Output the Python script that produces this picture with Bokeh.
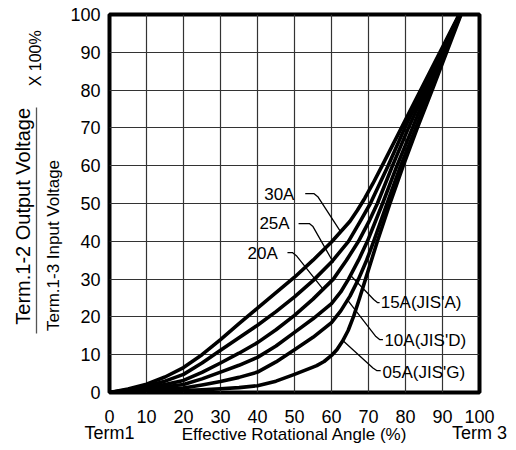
from bokeh.plotting import figure
from bokeh.models import Label, LinearAxis, Range1d, FixedTicker
from bokeh.embed import file_html
from bokeh.resources import INLINE

# ---- data ----
X_TICKS = [0, 10, 20, 30, 40, 50, 60, 70, 80, 90, 100]
Y_TICKS = [0, 10, 20, 30, 40, 50, 60, 70, 80, 90, 100]
X_END_NAMES = {0: "0\nTerm1", 100: "100\nTerm 3"}

A30_x = [0, 5, 10, 15, 20, 25, 30, 35, 40, 45, 50, 55, 60, 65, 67, 69, 71.2, 73.7, 78.9, 84.1, 89.3, 94.5]
A30_y = [0, 0.9, 2.2, 4.1, 6.6, 10.0, 14.0, 18.2, 22.3, 26.4, 30.5, 35.0, 39.8, 45.3, 48.2, 51.4, 55.3, 60, 70, 80, 90, 100]

A25_x = [0, 5, 10, 15, 20, 25, 30, 35, 40, 45, 50, 55, 60, 64.6, 67.6, 70.5, 75.3, 79.8, 84.7, 89.6, 94.6]
A25_y = [0, 0.7, 1.7, 3.0, 4.8, 7.8, 11.2, 14.5, 17.8, 21.4, 25.3, 29.6, 34.5, 40, 45, 50, 60, 70, 80, 90, 100]

A20_x = [0, 5, 10, 15, 20, 25, 30, 35, 40, 45, 50, 55, 60.5, 64, 67.3, 70, 72.4, 76.5, 80.8, 85.4, 90.0, 94.7]
A20_y = [0, 0.5, 1.3, 2.1, 3.2, 5.3, 7.8, 10.4, 13.2, 16.6, 20.4, 24.7, 30, 34.9, 40, 45, 50, 60, 70, 80, 90, 100]

A15_x = [0, 5, 10, 15, 20, 25, 30, 35, 40, 45, 50, 55, 60, 62.5, 64.6, 67.3, 69.7, 73.8, 77.7, 81.9, 86.0, 90.3, 94.8]
A15_y = [0, 0.4, 1.0, 1.5, 2.1, 3.6, 5.4, 7.2, 9.3, 12.3, 15.9, 19.5, 23.5, 26.6, 30, 35, 40, 50, 60, 70, 80, 90, 100]

A10_x = [0, 5, 10, 15, 20, 25, 30, 35, 40, 45, 50, 55, 60, 62.5, 65, 67.3, 69.5, 71.4, 75.0, 78.7, 82.8, 86.7, 90.7, 94.9]
A10_y = [0, 0.3, 0.6, 0.9, 1.2, 2.0, 2.9, 4.0, 5.4, 8.1, 11.3, 14.6, 18.5, 21.6, 25.5, 30, 35, 40, 50, 60, 70, 80, 90, 100]

A05_x = [0, 5, 10, 15, 20, 25, 30, 35, 40, 45, 50, 55, 56, 58, 60, 61.5, 63, 64.5, 66, 67.6, 69.2, 72.4, 75.8, 79.4, 83.2, 87.2, 91.1, 95.0]
A05_y = [0, 0.15, 0.3, 0.4, 0.5, 0.7, 1.0, 1.3, 1.8, 3.0, 4.8, 6.7, 7.1, 8.2, 9.8, 11.4, 13.6, 16.4, 20.2, 25, 30, 40, 50, 60, 70, 80, 90, 100]

CURVE_NAMES = ["30A", "25A", "20A", "15A(JIS'A)", "10A(JIS'D)", "05A(JIS'G)"]

FONT = "Liberation Sans"

p = figure(frame_width=370, frame_height=378,
           min_border_left=109, min_border_right=35,
           min_border_top=14, min_border_bottom=56,
           x_range=Range1d(0, 100), y_range=Range1d(0, 100),
           output_backend="svg", toolbar_location=None)
p.background_fill_color = "white"
p.border_fill_color = "white"
p.outline_line_color = "black"
p.outline_line_width = 4
p.outline_line_alpha = 1.0

for ax, ticks in ((p.xaxis[0], X_TICKS), (p.yaxis[0], Y_TICKS)):
    ax.ticker = FixedTicker(ticks=ticks)
    ax.axis_line_color = None
    ax.major_tick_line_color = None
    ax.minor_tick_line_color = None
    ax.major_tick_out = 0
    ax.major_tick_in = 0
    ax.major_label_text_font = FONT
    ax.major_label_text_font_size = "18px"
    ax.major_label_text_color = "black"

xa = p.xaxis[0]
xa.major_label_standoff = 14
xa.major_label_overrides = X_END_NAMES
xa.major_label_text_line_height = 0.8
xa.axis_label = "Effective Rotational Angle (%)"
xa.axis_label_text_font = FONT
xa.axis_label_text_font_style = "normal"
xa.axis_label_text_font_size = "17px"
xa.axis_label_text_color = "black"
xa.axis_label_standoff = -21

ya = p.yaxis[0]
ya.major_label_standoff = 9
# blank axis title only reserves room between the tick labels and the titles
ya.axis_label = " "
ya.axis_label_text_font_size = "1px"
ya.axis_label_standoff = 8

p.xgrid.ticker = FixedTicker(ticks=X_TICKS)
p.ygrid.ticker = FixedTicker(ticks=Y_TICKS)
for g in (p.xgrid[0], p.ygrid[0]):
    g.grid_line_color = "#333333"
    g.grid_line_width = 1.2
    g.grid_line_alpha = 1.0

curves = [(A30_x, A30_y), (A25_x, A25_y), (A20_x, A20_y),
          (A15_x, A15_y), (A10_x, A10_y), (A05_x, A05_y)]
for cx, cy in curves:
    p.line(cx, cy, line_color="black", line_width=3.6, line_join="round", line_cap="round")

# leader lines from labels to curves
leaders = [
    ([52.9, 55.3, 56.3, 62.4], [52.6, 52.6, 51.8, 42.6]),
    ([51.1, 54.0, 55.0, 60.5], [44.7, 44.7, 43.9, 34.4]),
    ([48.1, 49.5, 50.5, 57.6], [37.0, 37.0, 36.2, 27.5]),
    ([65.1, 71.4, 72.4, 73.0], [31.0, 24.6, 23.8, 23.8]),
    ([64.3, 72.0, 73.0, 73.9], [24.5, 14.8, 14.0, 14.0]),
    ([63.2, 71.2, 72.2, 73.3], [13.6, 6.5, 5.8, 5.8]),
]
for lx, ly in leaders:
    p.line(lx, ly, line_color="black", line_width=1.3, line_join="round")

label_pos = [
    (45.9, 52.4, "center"),
    (44.6, 44.7, "center"),
    (41.4, 36.9, "center"),
    (73.3, 23.8, "left"),
    (74.3, 13.8, "left"),
    (73.8, 5.3, "left"),
]
for name, (lx, ly, al) in zip(CURVE_NAMES, label_pos):
    p.add_layout(Label(x=lx, y=ly, text=name, text_font=FONT, text_font_size="17px",
                       text_align=al, text_baseline="middle", text_color="black"))

# y title, denominator (left panel, next to the tick labels)
p.add_layout(Label(x=-15.2, y=38.9, text="Term.1-3 Input Voltage", angle=1.5708,
                   text_font=FONT, text_font_size="17px", text_align="center",
                   text_baseline="middle", text_color="black"), "left")

# fraction bar: a bare axis line in the next left slot
bar = LinearAxis(bounds=(15.6, 75.4), ticker=FixedTicker(ticks=[]),
                 axis_line_color="#555555", axis_line_width=1.3,
                 major_tick_out=0, major_tick_in=0, major_label_standoff=0,
                 major_tick_line_color=None, minor_tick_line_color=None,
                 major_label_text_font_size="1px")
p.add_layout(bar, "left")

# y title, numerator
p.add_layout(Label(x=-23.4, y=46.6, text="Term.1-2 Output Voltage", angle=1.5708,
                   text_font=FONT, text_font_size="20px", text_align="center",
                   text_baseline="middle", text_color="black"), "left")
p.add_layout(Label(x=-20.0, y=88.4, text="X 100%", angle=1.5708,
                   text_font=FONT, text_font_size="16px", text_align="center",
                   text_baseline="middle", text_color="black"), "right")

open("out.html", "w").write(file_html(p, INLINE))
